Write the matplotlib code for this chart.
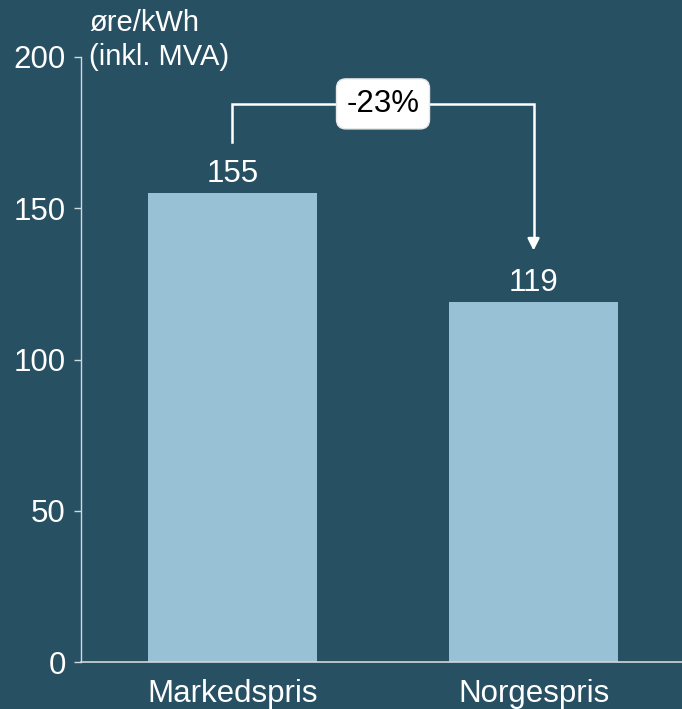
import matplotlib
matplotlib.use("Agg")
import matplotlib.pyplot as plt

categories = ["Markedspris", "Norgespris"]
values = [155, 119]
change_label = "-23%"
y_ticks = [0, 50, 100, 150, 200]
unit_lines = ["øre/kWh", "(inkl. MVA)"]

bg = "#285063"
bar_color = "#98C1D6"
fg = "white"
FS = 22.5

plt.rcParams['font.family'] = ['Liberation Sans', 'DejaVu Sans']

fig = plt.figure(figsize=(6.82, 7.09), dpi=100)
fig.patch.set_facecolor(bg)
ax = fig.add_axes([81/682, 47/709, 1 - 81/682, (662-57)/709])
ax.set_facecolor(bg)

x = list(range(len(categories)))
ax.bar(x, values, width=0.56, color=bar_color, zorder=2)
ax.set_xlim(-0.503, 1.493)
ax.set_ylim(0, 200)
ax.set_yticks(y_ticks)
ax.set_xticks(x)
ax.set_xticklabels(categories)
ax.tick_params(axis='y', colors=fg, labelsize=FS, length=5, width=1, color="#d0d8dc", pad=6)
ax.tick_params(axis='x', colors=fg, labelsize=FS, length=0, pad=12)
for lab in ax.get_xticklabels() + ax.get_yticklabels():
    lab.set_color(fg)

for s in ['top', 'right']:
    ax.spines[s].set_visible(False)
ax.spines['left'].set_color("#d0d8dc")
ax.spines['bottom'].set_color("#d0d8dc")
ax.spines['left'].set_linewidth(1)
ax.spines['bottom'].set_linewidth(1.2)

for xi, v in zip(x, values):
    ax.annotate(str(v), (xi, v), xytext=(0, 3), textcoords='offset points',
                ha='center', va='bottom', color=fg, fontsize=FS)

# bracket
top_y = 184.5
ax.plot([x[0], x[0], x[1], x[1]], [values[0] + 17, top_y, top_y, values[1] + 20],
        color="white", lw=1.8, solid_joinstyle='miter', clip_on=False, zorder=3)
ax.annotate("", xy=(x[1], values[1] + 17), xytext=(x[1], values[1] + 21),
            arrowprops=dict(arrowstyle="-|>,head_length=0.7,head_width=0.35",
                            color="white", lw=1.8, shrinkA=0, shrinkB=0), zorder=3)
ax.text((x[0] + x[1]) / 2, top_y, change_label, ha='center', va='center',
        fontsize=FS, color="black", zorder=4,
        bbox=dict(boxstyle="round,pad=0.32,rounding_size=0.3", fc="white", ec="#e8e8e8", lw=1))

for line, base in zip(unit_lines, [31, 65]):
    fig.text(89/682, 1 - base/709, line, ha='left', va='baseline', color=fg, fontsize=21)

fig.savefig("out.png", dpi=100, facecolor=bg)
